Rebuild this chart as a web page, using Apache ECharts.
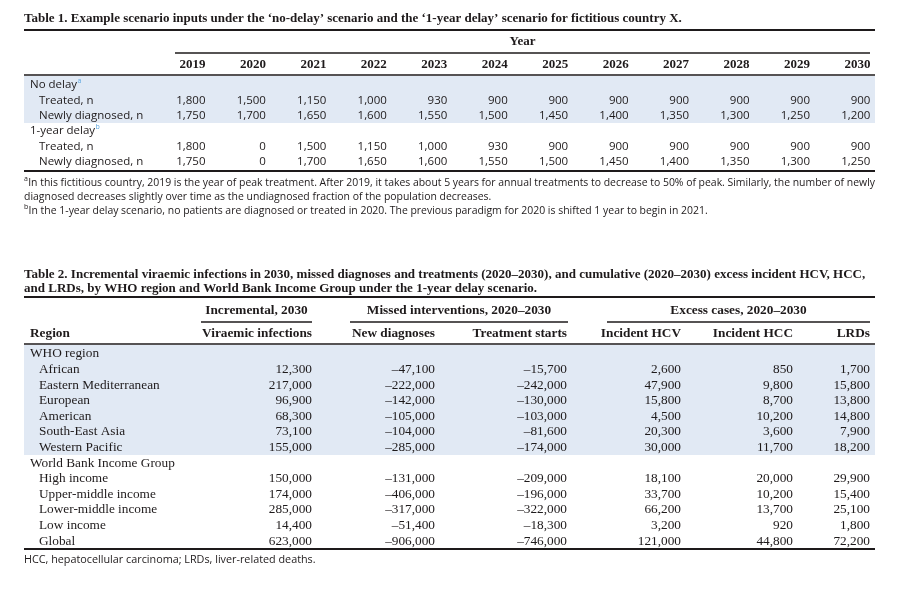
<!DOCTYPE html>
<html><head><meta charset="utf-8">
<script src="https://cdn.jsdelivr.net/npm/echarts@6/dist/echarts.min.js"></script>
<style>html,body{margin:0;padding:0;background:#fff}#c{width:921px;height:596px}</style>
</head><body><div id="c"></div>
<script>
// ---------- DATA ----------
const t1Title = "Table 1. Example scenario inputs under the \u2018no-delay\u2019 scenario and the \u20181-year delay\u2019 scenario for fictitious country X.";
const years = [2019,2020,2021,2022,2023,2024,2025,2026,2027,2028,2029,2030];
const noDelayTreated = [1800,1500,1150,1000,930,900,900,900,900,900,900,900];
const noDelayDiagnosed = [1750,1700,1650,1600,1550,1500,1450,1400,1350,1300,1250,1200];
const delayTreated = [1800,0,1500,1150,1000,930,900,900,900,900,900,900];
const delayDiagnosed = [1750,0,1700,1650,1600,1550,1500,1450,1400,1350,1300,1250];
const t1Notes = [
  ["a","In this fictitious country, 2019 is the year of peak treatment. After 2019, it takes about 5 years for annual treatments to decrease to 50% of peak. Similarly, the number of newly", true],
  ["","diagnosed decreases slightly over time as the undiagnosed fraction of the population decreases.", false],
  ["b","In the 1-year delay scenario, no patients are diagnosed or treated in 2020. The previous paradigm for 2020 is shifted 1 year to begin in 2021.", false]
];

const t2TitleLines = [
  "Table 2. Incremental viraemic infections in 2030, missed diagnoses and treatments (2020\u20132030), and cumulative (2020\u20132030) excess incident HCV, HCC,",
  "and LRDs, by WHO region and World Bank Income Group under the 1-year delay scenario."
];
const t2Groups = ["Incremental, 2030","Missed interventions, 2020\u20132030","Excess cases, 2020\u20132030"];
const t2Columns = ["Viraemic infections","New diagnoses","Treatment starts","Incident HCV","Incident HCC","LRDs"];
const whoRegions = ["African","Eastern Mediterranean","European","American","South-East Asia","Western Pacific"];
const incomeGroups = ["High income","Upper-middle income","Lower-middle income","Low income","Global"];
const viraemic   = [12300,217000,96900,68300,73100,155000, 150000,174000,285000,14400,623000];
const newDiag    = [-47100,-222000,-142000,-105000,-104000,-285000, -131000,-406000,-317000,-51400,-906000];
const treatStart = [-15700,-242000,-130000,-103000,-81600,-174000, -209000,-196000,-322000,-18300,-746000];
const incHCV     = [2600,47900,15800,4500,20300,30000, 18100,33700,66200,3200,121000];
const incHCC     = [850,9800,8700,10200,3600,11700, 20000,10200,13700,920,44800];
const lrds       = [1700,15800,13800,14800,7900,18200, 29900,15400,25100,1800,72200];
const t2Note = "HCC, hepatocellular carcinoma; LRDs, liver-related deaths.";

// ---------- LAYOUT ----------
const INK = '#1e1a1b', BAND = '#e1e9f4', SUP = '#5fa8e0';
const SERIF = '"Liberation Serif", serif';
const SANS = '"Open Sans", sans-serif';
const L = 24, R = 875;
const g = [];
const mctx = document.createElement('canvas').getContext('2d');
function measure(s, font){ mctx.font = font; return mctx.measureText(s).width; }
function fmt(v){const s=Math.abs(v).toString().replace(/\B(?=(\d{3})+(?!\d))/g, ','); return (v<0?'\u2013':'')+s;}
function txt(x,y,s,font,align,extra){g.push({type:'text',silent:true,style:Object.assign({x:x,y:y,text:s,fill:INK,font:font,align:align||'left',verticalAlign:'middle'},extra||{})});}
function line(x1,y1,x2,y2,w){g.push({type:'line',silent:true,shape:{x1:x1,y1:y1,x2:x2,y2:y2},style:{stroke:INK,lineWidth:w}});}
function rect(x,y,w,h,c){g.push({type:'rect',silent:true,z:-1,shape:{x:x,y:y,width:w,height:h},style:{fill:c}});}
function supMark(x,y,s,color){ txt(x, y-4, s, '7px ' + SANS, 'left', {fill:color||INK}); return measure(s,'7px ' + SANS); }
function justified(x0, x1, y, s, font){
  const words = s.split(' ');
  const total = words.reduce((a,w)=>a+measure(w,font),0);
  const gap = (x1 - x0 - total) / (words.length - 1);
  let x = x0;
  words.forEach(w => { txt(x, y, w, font); x += measure(w,font) + gap; });
}

// ---------- TABLE 1 ----------
const T1B = 'bold 13px ' + SERIF;
const T1F = '11.5px ' + SANS;
txt(L, 19, t1Title, T1B);
line(L, 30, R, 30, 2);
const colRight1 = years.map((y,i) => 205.5 + i*60.45);
txt((175+870)/2, 42, 'Year', T1B, 'center');
line(175, 53, 870, 53, 1.5);
years.forEach((y,i) => txt(colRight1[i], 65, String(y), T1B, 'right'));
line(L, 75, R, 75, 1.5);
rect(L, 76, R-L, 47, BAND);
const t1Rows = [
  {label:'No delay', sup:'a', y:85},
  {label:'Treated, n', y:101, vals:noDelayTreated, ind:true},
  {label:'Newly diagnosed, n', y:116, vals:noDelayDiagnosed, ind:true},
  {label:'1-year delay', sup:'b', y:131},
  {label:'Treated, n', y:147, vals:delayTreated, ind:true},
  {label:'Newly diagnosed, n', y:162, vals:delayDiagnosed, ind:true}
];
t1Rows.forEach(r => {
  const x = r.ind ? 39 : 30;
  txt(x, r.y, r.label, T1F);
  if (r.sup) supMark(x + measure(r.label, T1F) + 0.5, r.y, r.sup, SUP);
  if (r.vals) r.vals.forEach((v,i) => txt(colRight1[i], r.y, fmt(v), T1F, 'right'));
});
line(L, 171, R, 171, 2);
const T1N = '10.45px ' + SANS;
t1Notes.forEach((n,i) => {
  const y = 183 + i*14;
  let x = L;
  if (n[0]) x += supMark(L, y, n[0], INK) + 0.3;
  if (n[2]) justified(x, R, y, n[1], T1N);
  else txt(x, y, n[1], T1N);
});

// ---------- TABLE 2 ----------
const T2B = 'bold 13px ' + SERIF;
const T2H = 'bold 13.3px ' + SERIF;
const T2F = '13.3px ' + SERIF;
txt(L, 275, t2TitleLines[0], T2B);
txt(L, 289, t2TitleLines[1], T2B);
line(L, 297, R, 297, 2);
const colRight2 = [312, 435, 567, 681, 793, 870];
const groupSpans = [[201,312],[350,568],[607,870]];
t2Groups.forEach((s,i) => {
  txt((groupSpans[i][0]+groupSpans[i][1])/2, 311, s, T2H, 'center');
  line(groupSpans[i][0], 322, groupSpans[i][1], 322, 1.5);
});
txt(30, 334, 'Region', T2H);
t2Columns.forEach((s,i) => txt(colRight2[i], 334, s, T2H, 'right'));
line(L, 344, R, 344, 1.5);
rect(L, 345, R-L, 110, BAND);
const cols = [viraemic, newDiag, treatStart, incHCV, incHCC, lrds];
const rowH = 15.6;
let y = 354;
txt(30, y, 'WHO region', T2F);
let k = 0;
whoRegions.forEach(name => {
  y += rowH;
  txt(39, y, name, T2F);
  cols.forEach((c,j) => txt(colRight2[j], y, fmt(c[k]), T2F, 'right'));
  k++;
});
y += rowH;
txt(30, y, 'World Bank Income Group', T2F);
incomeGroups.forEach(name => {
  y += rowH;
  txt(39, y, name, T2F);
  cols.forEach((c,j) => txt(colRight2[j], y, fmt(c[k]), T2F, 'right'));
  k++;
});
line(L, 549, R, 549, 2);
txt(L, 560, t2Note, '10.8px ' + SANS);

const chart = echarts.init(document.getElementById('c'), null, {renderer:'canvas'});
chart.setOption({backgroundColor:'#ffffff', animation:false, graphic:{elements:g}});
</script></body></html>
